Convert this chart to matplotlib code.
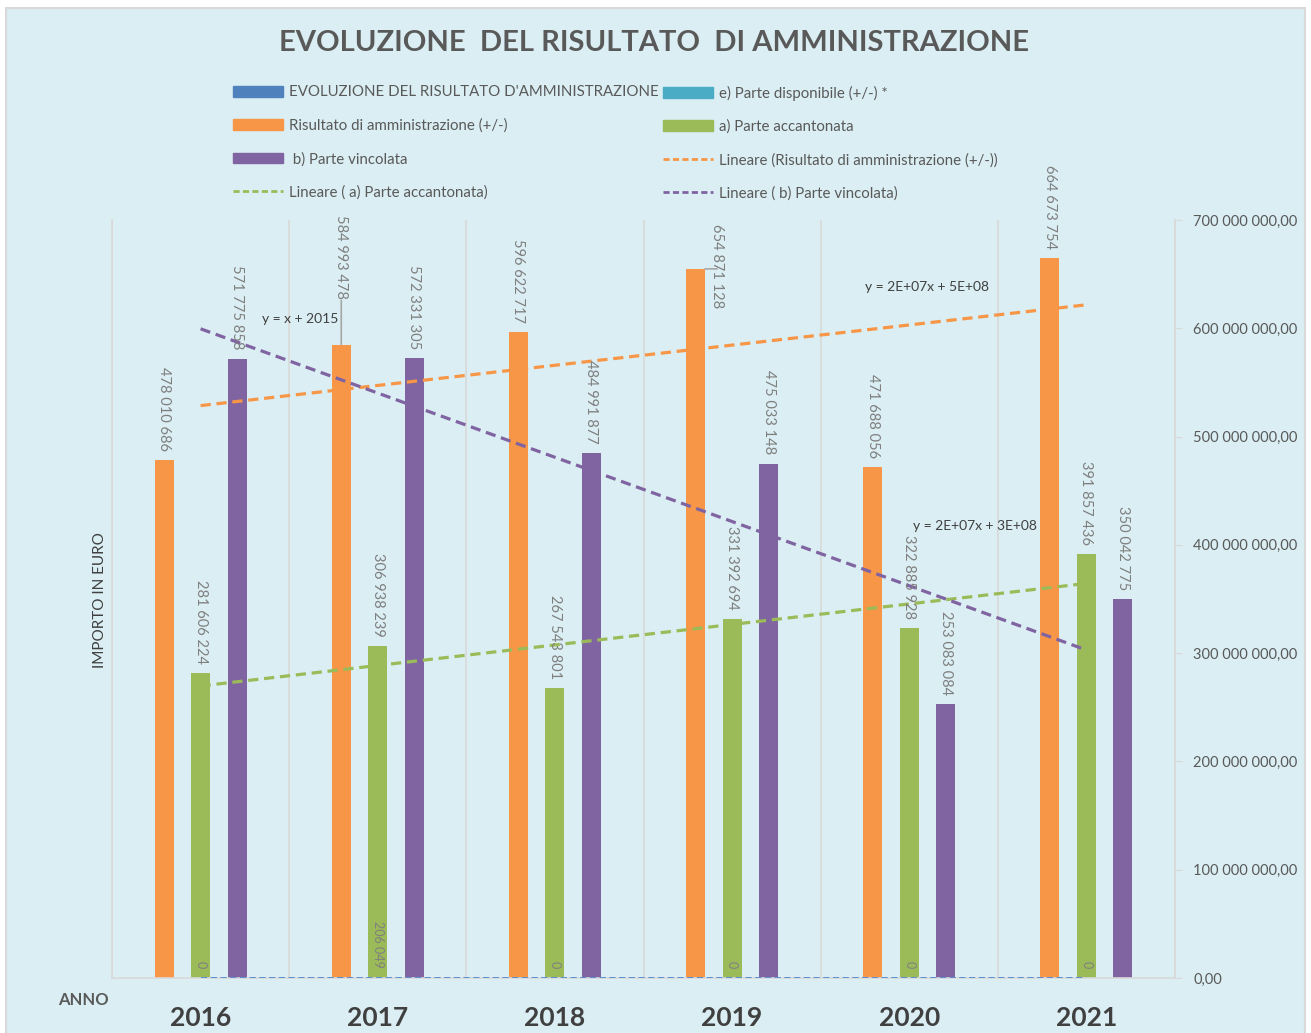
import numpy as np
import matplotlib.pyplot as plt
from matplotlib.patches import Rectangle, Patch
from matplotlib.lines import Line2D
from matplotlib.ticker import FuncFormatter

# dati
anni = ["2016", "2017", "2018", "2019", "2020", "2021"]
evoluzione = [2016, 2017, 2018, 2019, 2020, 2021]
risultato = [478010686, 584993478, 596622717, 654871128, 471688056, 664673754]
accantonata = [281606224, 306938239, 267543801, 331392694, 322885928, 391857436]
vincolata = [571775858, 572331305, 484991877, 475033148, 253083084, 350042775]
disponibile = [0, 206049, 0, 0, 0, 0]

# colori
c_blu = "#4F81BD"
c_ciano = "#4BACC6"
c_arancio = "#F79646"
c_verde = "#9BBB59"
c_viola = "#8064A2"
bg = "#DAEEF3"
grigio = "#D9D9D9"
testo = "#595959"

plt.rcParams['font.family'] = ['Lato', 'DejaVu Sans']


def fmt_num(v):
    return "{:,}".format(int(round(v))).replace(",", " ")


def fmt_asse(v, pos):
    s = "{:,.2f}".format(v)
    s = s.replace(",", "X").replace(".", ",").replace("X", " ")
    return s


fig = plt.figure(figsize=(13.11, 10.33), dpi=100)
fig.patch.set_facecolor("white")
fig.add_artist(Rectangle((6 / 1311, -0.01), 1299 / 1311, (1033 - 8) / 1033 + 0.01,
                         transform=fig.transFigure, facecolor=bg, edgecolor=grigio, lw=1.5,
                         zorder=-10))

ax = fig.add_axes([112 / 1311, 55 / 1033, 1063 / 1311, 758 / 1033])
ax.set_facecolor(bg)

x = np.arange(len(anni))
w = 0.107
off = 0.206

ax.bar(x - off, risultato, w, color=c_arancio, zorder=2)
ax.bar(x, accantonata, w, color=c_verde, zorder=2)
ax.bar(x + off, vincolata, w, color=c_viola, zorder=2)

# linee di tendenza
ls = (0, (3.2, 1.8))
for serie, col in [(evoluzione, "#5B8FD0"), (risultato, c_arancio), (accantonata, c_verde), (vincolata, c_viola)]:
    k, q = np.polyfit(x, serie, 1)
    lw = 1.4 if serie is evoluzione else 2.3
    ax.plot([x[0], x[-1]], [k * x[0] + q, k * x[-1] + q], color=col, lw=lw, ls=ls, zorder=3)

# etichette dati
col_lab = "#7F7F7F"
spost = {("r", 1): (0, 46), ("r", 3): (21, -39)}
for nome, serie, dx in [("r", risultato, -off), ("a", accantonata, 0), ("v", vincolata, off)]:
    for i, v in enumerate(serie):
        ox, oy = spost.get((nome, i), (0, 9))
        ax.annotate(fmt_num(v), (x[i] + dx, v), xytext=(ox, oy), textcoords="offset pixels",
                    rotation=270, ha="center", va="bottom", fontsize=10.5, color=col_lab, zorder=4)
for i, v in enumerate(disponibile):
    ax.annotate(fmt_num(v), (x[i], v), xytext=(0, 10), textcoords="offset pixels",
                rotation=270, ha="center", va="bottom", fontsize=9, color=col_lab, zorder=4)

# linee guida delle etichette spostate
ax.annotate("", (x[1] - off, risultato[1]), xytext=(0, 44), textcoords="offset pixels",
            arrowprops=dict(arrowstyle="-", color="#A6A6A6", lw=1.2, shrinkA=0, shrinkB=0))
ax.annotate("", (x[3] - off + w / 2, risultato[3]), xytext=(12, 0), textcoords="offset pixels",
            arrowprops=dict(arrowstyle="-", color="#A6A6A6", lw=1.2, shrinkA=0, shrinkB=0))

# equazioni
ax.text(0.56, 609e6, "y = x + 2015", fontsize=10, color="#404040", ha="center", va="center")
ax.text(4.10, 638e6, "y = 2E+07x + 5E+08", fontsize=10, color="#404040", ha="center", va="center")
ax.text(4.37, 417e6, "y = 2E+07x + 3E+08", fontsize=10, color="#404040", ha="center", va="center")

ax.set_xlim(-0.5, 5.5)
ax.set_ylim(0, 700e6)
ax.set_xticks(x)
ax.set_xticklabels(anni, fontsize=19, fontweight="bold", color="#404040")
ax.tick_params(axis="x", length=0, pad=20)
ax.set_xticks(np.arange(-0.5, 6, 1), minor=True)
ax.tick_params(axis="x", which="minor", length=0)
ax.grid(axis="x", which="minor", color=grigio, lw=1.2, zorder=0)

ax.yaxis.tick_right()
ax.set_yticks(np.arange(0, 701e6, 100e6))
ax.yaxis.set_major_formatter(FuncFormatter(fmt_asse))
ax.tick_params(axis="y", which="major", labelsize=10.5, colors=grigio, length=5, pad=8)
ax.tick_params(axis="y", labelcolor=testo)
ax.spines["top"].set_visible(False)
for s in ["left", "right", "bottom"]:
    ax.spines[s].set_color(grigio)
    ax.spines[s].set_linewidth(1.2)

# titoli
fig.text(654 / 1311, 1 - 43 / 1033, "EVOLUZIONE  DEL RISULTATO  DI AMMINISTRAZIONE",
         fontsize=21, fontweight="bold", color=testo, ha="center", va="center")
fig.text(100 / 1311, 1 - 600 / 1033, "IMPORTO IN EURO", rotation=90, fontsize=11,
         color="#404040", ha="center", va="center")
fig.text(83 / 1311, 1 - 1000 / 1033, "ANNO", fontsize=12, fontweight="bold",
         color=testo, ha="center", va="center")

# legenda (due colonne)
dash = (0, (2.2, 1.2))
col1 = [Patch(color=c_blu, label="EVOLUZIONE DEL RISULTATO D'AMMINISTRAZIONE"),
        Patch(color=c_arancio, label="Risultato di amministrazione (+/-)"),
        Patch(color=c_viola, label=" b) Parte vincolata"),
        Line2D([], [], color=c_verde, lw=2, ls=dash, label="Lineare ( a) Parte accantonata)")]
col2 = [Patch(color=c_ciano, label="e) Parte disponibile (+/-) *"),
        Patch(color=c_verde, label="a) Parte accantonata"),
        Line2D([], [], color=c_arancio, lw=2, ls=dash, label="Lineare (Risultato di amministrazione (+/-))"),
        Line2D([], [], color=c_viola, lw=2, ls=dash, label="Lineare ( b) Parte vincolata)")]
for hs, x0 in [(col1, 228), (col2, 658)]:
    fig.legend(handles=hs, loc="upper left", bbox_to_anchor=(x0 / 1311, 1 - 81 / 1033),
               frameon=False, fontsize=10.8, labelcolor=testo, handlelength=3.35, handleheight=0.7,
               handletextpad=0.4, labelspacing=1.27, borderaxespad=0, borderpad=0.3)

fig.savefig("out.png", dpi=100, facecolor=fig.get_facecolor())
